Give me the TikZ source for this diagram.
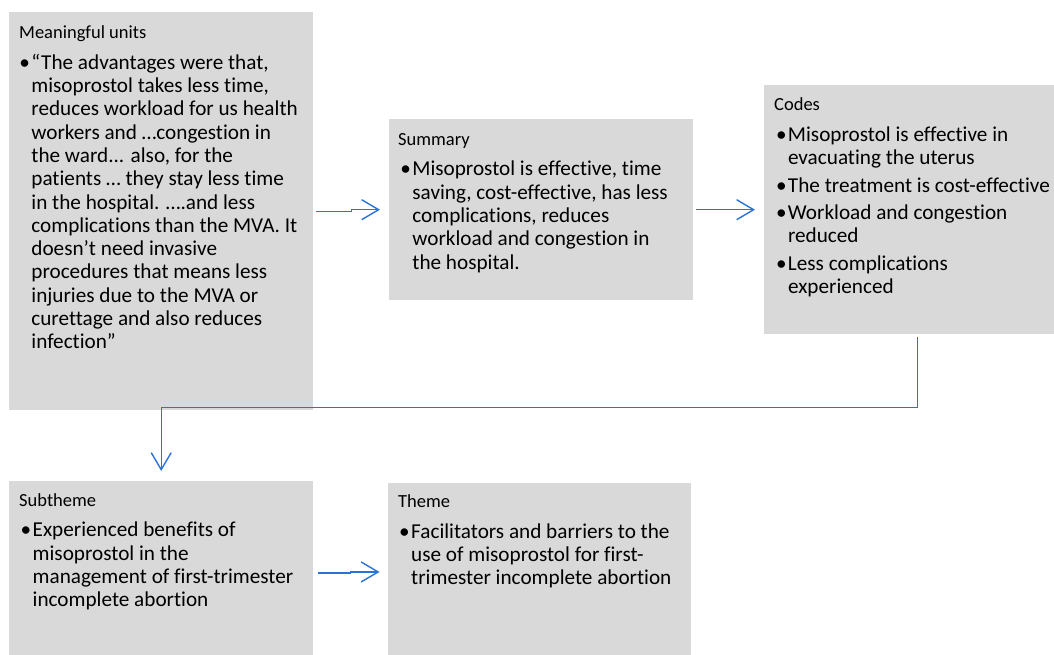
\documentclass[tikz,border=0pt]{standalone}
\usepackage{fontspec}
\setmainfont{Carlito}[Ligatures={NoCommon}]
\usetikzlibrary{arrows.meta}
\definecolor{boxgray}{RGB}{217,217,217}
\definecolor{arrblue}{RGB}{40,115,215}
\newcommand{\ttlfont}{\fontsize{18.5}{22}\selectfont}
\newcommand{\bdyfont}{\fontsize{21.2}{23.3}\selectfont}
\newcommand{\bul}{\noindent\hangindent=12pt\hangafter=1\makebox[12pt][l]{•}}
\tikzset{
  box/.style={fill=boxgray, draw=none, inner sep=0pt, anchor=north west},
  ttl/.style={anchor=base west, inner sep=0pt, font=\ttlfont},
  bdy/.style={anchor=base west, inner sep=0pt, font=\bdyfont},
  arr/.style={draw=arrblue, line width=1.4pt, -{Straight Barb[length=17pt,width=20pt,line width=1.4pt]}},
}
\begin{document}
\begin{tikzpicture}[x=1pt,y=-1pt]
\useasboundingbox (0,0) rectangle (1054,655);
% boxes
\node[box, minimum width=304pt, minimum height=398pt] (mu) at (9,12) {};
\node[box, minimum width=304pt, minimum height=181pt] (sum) at (389,119) {};
\node[box, minimum width=290pt, minimum height=249pt] (cod) at (764,85) {};
\node[box, minimum width=304pt, minimum height=174.5pt] (sub) at (9,480.5) {};
\node[box, minimum width=303pt, minimum height=172.5pt] (thm) at (388,482.5) {};
% titles
\node[ttl] (mut) at (19,38.5) {Meaningful units};
\node[ttl] (sumt) at (398,145.5) {Summary};
\node[ttl] (codt) at (774,111) {Codes};
\node[ttl] (subt) at (19,506.7) {Subtheme};
\node[ttl] (thmt) at (398,507.7) {Theme};
% bodies
\node[bdy] (mub) at (19.2,69.3) {\parbox[t]{400pt}{\bul “The advantages were that,\\
misoprostol takes less time,\\
reduces workload for us health\\
workers and …congestion in\\
the ward... also, for the\\
patients … they stay less time\\
in the hospital. ….and less\\
complications than the MVA. It\\
doesn’t need invasive\\
procedures that means less\\
injuries due to the MVA or\\
curettage and also reduces\\
infection”}};
\node[bdy] (sumb) at (400.2,176) {\parbox[t]{400pt}{\bul Misoprostol is effective, time\\
saving, cost-effective, has less\\
complications, reduces\\
workload and congestion in\\
the hospital.}};
\node[bdy] (codb) at (775.8,141.7) {\parbox[t]{400pt}{\bul Misoprostol is effective in\\
evacuating the uterus\par\vspace{4pt}
\bul The treatment is cost-effective\par\vspace{4pt}
\bul Workload and congestion\\
reduced\par\vspace{4pt}
\bul Less complications\\
experienced}};
\node[bdy] (subb) at (20.5,536.7) {\parbox[t]{400pt}{\bul Experienced benefits of\\
misoprostol in the\\
management of first-trimester\\
incomplete abortion}};
\node[bdy] (thmb) at (399,538) {\parbox[t]{400pt}{\bul Facilitators and barriers to the\\
use of misoprostol for first-\\
trimester incomplete abortion}};
% connectors
\draw[arr] ([xshift=3pt]mu.east) -- ++(35,0) |- ([xshift=-9pt]sum.west);
\draw[arr] ([xshift=3pt]sum.east) -- ([xshift=-9pt]cod.west);
\draw[arr] ([xshift=8pt,yshift=-3pt]cod.south) -- ++(0,70) -| ([yshift=9.5pt]sub.north);
\draw[arr] ([xshift=5pt,yshift=-5pt]sub.east) -- ++(32,0) |- ([xshift=-8.5pt,yshift=-3pt]thm.west);
\end{tikzpicture}
\end{document}
